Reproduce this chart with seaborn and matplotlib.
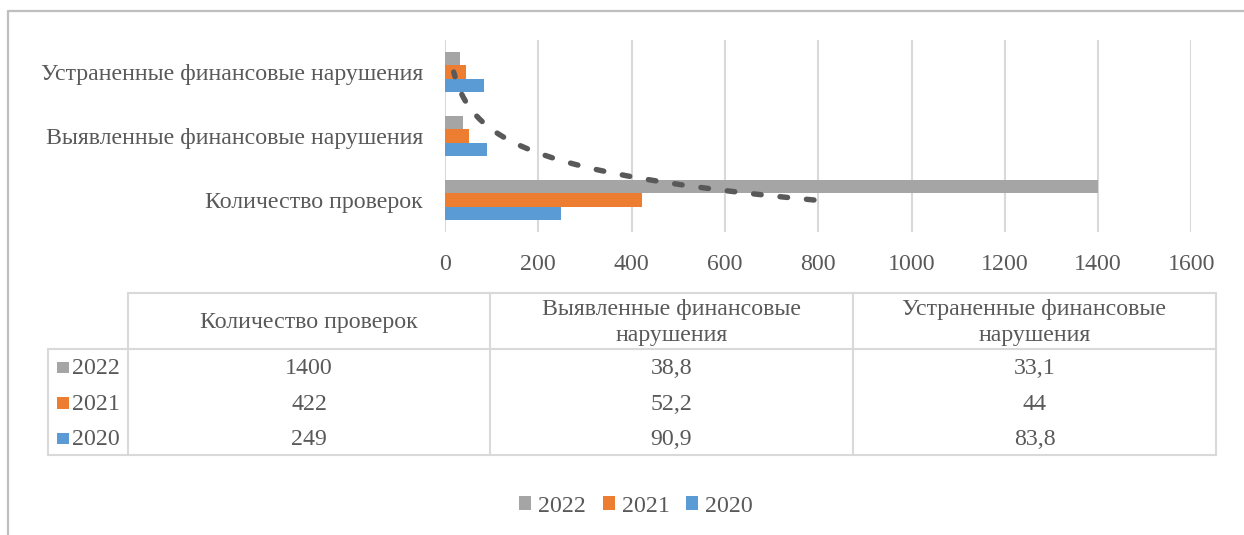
import numpy as np
import pandas as pd
import matplotlib
matplotlib.use("Agg")
import matplotlib.pyplot as plt
from matplotlib.patches import Patch, Rectangle
import seaborn as sns

# ---- data ----
categories = ["Количество проверок", "Выявленные финансовые нарушения", "Устраненные финансовые нарушения"]
header_labels = ["Количество проверок", "Выявленные финансовые\nнарушения", "Устраненные финансовые\nнарушения"]
years = ["2022", "2021", "2020"]
values_2022 = [1400, 38.8, 33.1]
values_2021 = [422, 52.2, 44]
values_2020 = [249, 90.9, 83.8]
colors = {"2022": "#A5A5A5", "2021": "#ED7D31", "2020": "#5B9BD5"}
x_ticks = [0, 200, 400, 600, 800, 1000, 1200, 1400, 1600]

series = {"2022": values_2022, "2021": values_2021, "2020": values_2020}
rows = []
for y in years:
    for c, v in zip(categories, series[y]):
        rows.append({"cat": c, "year": y, "value": v})
df = pd.DataFrame(rows)

sns.set_theme(style="white")
plt.rcParams["font.family"] = ["Liberation Serif", "DejaVu Serif"]
TXT = "#595959"
GRID = "#D9D9D9"
FS = 17.2

W, H = 1244, 535
fig = plt.figure(figsize=(W / 100, H / 100), dpi=100)

# main axes in pixel layout
left, right, top, bottom = 445, 1191.5, 40, 232
ax = fig.add_axes([left / W, 1 - bottom / H, (right - left) / W, (bottom - top) / H])
sns.barplot(data=df, y="cat", x="value", hue="year", order=categories[::-1],
            hue_order=years, palette=colors, orient="h", width=0.625,
            legend=False, ax=ax, saturation=1, linewidth=0)
ax.set_xlim(0, 1600)
ax.set_xticks(x_ticks)
ax.set_xticklabels([str(t) for t in x_ticks], fontsize=FS, color=TXT)
ax.set_yticklabels(categories[::-1], fontsize=FS, color=TXT)
ax.tick_params(axis="x", length=0, pad=15.5)
ax.tick_params(axis="y", length=0, pad=16)
ax.set_xlabel("")
ax.set_ylabel("")
for s in ax.spines.values():
    s.set_visible(False)
ax.grid(axis="x", color=GRID, linewidth=1.5)
ax.grid(axis="y", visible=False)
ax.set_axisbelow(True)

# exponential trendline of 2022 series (Excel-style, x = category index 1..3)
xi = np.arange(1, len(categories) + 1)
b, a = np.polyfit(xi, np.log(values_2022), 1)
t = np.linspace(1, len(categories), 300)
trend = np.exp(a + b * t)
ax.plot(trend, len(categories) - t, color="#595959", linewidth=3.9,
        linestyle=(0.0, (1.4, 3.5)), dash_capstyle="round", zorder=5)
ax.set_ylim(len(categories) - 0.5, -0.5)

# overlay for border, table and legend
ov = fig.add_axes([0, 0, 1, 1], zorder=-1)
ov.set_xlim(0, W)
ov.set_ylim(H, 0)
ov.axis("off")
ov.plot([8, 8], [11, H], color="#BFBFBF", lw=1.6)
ov.plot([8, W], [11, 11], color="#BFBFBF", lw=1.6)

tl = dict(color=GRID, lw=1.5, solid_capstyle="projecting")
col_x = [128, 490, 853, 1216]
t_top, t_head, t_bot = 293, 349, 455
ov.plot([col_x[0], col_x[-1]], [t_top, t_top], **tl)
ov.plot([48, col_x[-1]], [t_head, t_head], **tl)
ov.plot([48, col_x[-1]], [t_bot, t_bot], **tl)
ov.plot([48, 48], [t_head, t_bot], **tl)
for cx in col_x:
    ov.plot([cx, cx], [t_top, t_bot], **tl)

for i, lab in enumerate(header_labels):
    cx = (col_x[i] + col_x[i + 1]) / 2
    ov.text(cx, 322.5, lab, ha="center", va="center", fontsize=FS, color=TXT,
            linespacing=1.25)

row_y = [368.5, 404, 439.5]
for ry, y in zip(row_y, years):
    ov.add_patch(Rectangle((57, ry - 7), 11.5, 11.5, color=colors[y], lw=0))
    ov.text(72, ry, y, ha="left", va="center", fontsize=FS, color=TXT)
    for i in range(len(categories)):
        cx = (col_x[i] + col_x[i + 1]) / 2
        v = series[y][i]
        ov.text(cx, ry, f"{v:g}".replace(".", ","), ha="center", va="center",
                fontsize=FS, color=TXT)

handles = [Patch(facecolor=colors[y], edgecolor="none", label=y) for y in years]
fig.legend(handles=handles, loc="center", bbox_to_anchor=(636 / W, 1 - 506 / H),
           ncol=3, frameon=False, fontsize=FS, labelcolor=TXT,
           handlelength=0.5, handleheight=0.5, handletextpad=0.3,
           columnspacing=0.7)

fig.savefig("out.png", dpi=100)
